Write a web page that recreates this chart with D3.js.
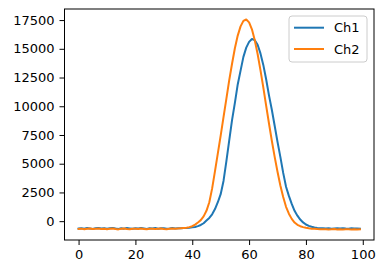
<!DOCTYPE html>
<html>
<head>
<meta charset="utf-8">
<script src="https://cdn.jsdelivr.net/npm/d3@7"></script>
<style>
  body { margin: 0; background: #fff; }
  text { font-family: "DejaVu Sans", sans-serif; fill: #000; }
</style>
</head>
<body>
<div id="wrapper"></div>
<script>
// sample index 0..99
const seriesNames = ["Ch1", "Ch2"];
const seriesColors = ["#1f77b4", "#ff7f0e"];

const ch1Values = [
  -640, -610, -655, -600, -630, -670, -615, -590, -640, -605,
  -660, -625, -585, -640, -670, -610, -650, -600, -635, -665,
  -620, -645, -590, -630, -675, -615, -640, -600, -655, -625,
  -610, -650, -635, -595, -640, -620, -610, -600, -590, -570,
  -540, -500, -430, -330, -180, 50, 280, 600, 1050, 1650,
  2350, 3500, 5200, 7000, 8800, 10300, 11900, 13100, 14300, 15100,
  15600, 15850, 15750, 15350, 14600, 13600, 12350, 10950, 9700, 8300,
  6900, 5600, 4200, 3000, 2200, 1500, 900, 480, 140, -110,
  -290, -410, -490, -550, -590, -610, -625, -640, -615, -650,
  -630, -620, -645, -610, -635, -650, -625, -640, -630, -645
];

const ch2Values = [
  -680, -650, -700, -660, -640, -690, -670, -630, -685, -655,
  -700, -665, -640, -690, -715, -660, -645, -680, -700, -655,
  -670, -690, -640, -675, -705, -660, -650, -690, -670, -645,
  -680, -700, -660, -640, -655, -630, -610, -590, -570, -520,
  -440, -300, -110, 90, 420, 900, 1650, 2850, 4350, 5900,
  7450, 9050, 10650, 12250, 13700, 15050, 16150, 16950, 17430, 17550,
  17300, 16700, 15750, 14550, 13150, 11650, 10050, 8500, 7000, 5600,
  4300, 3100, 2100, 1250, 650, 200, -120, -320, -440, -520,
  -580, -620, -650, -670, -690, -700, -710, -695, -720, -705,
  -690, -715, -700, -725, -710, -695, -720, -705, -715, -700
];

const xTicks = [0, 20, 40, 60, 80, 100];
const yTicks = [0, 2500, 5000, 7500, 10000, 12500, 15000, 17500];

function drawChart() {
  const dimensions = {
    width: 385,
    height: 274,
    margin: { top: 9, right: 11, bottom: 34, left: 64.5 }
  };
  dimensions.boundedWidth = dimensions.width - dimensions.margin.left - dimensions.margin.right;
  dimensions.boundedHeight = dimensions.height - dimensions.margin.top - dimensions.margin.bottom;

  const series = [ch1Values, ch2Values];
  const xAccessor = (d, i) => i;
  const yAccessor = d => d;

  const wrapper = d3.select("#wrapper")
    .append("svg")
      .attr("width", dimensions.width)
      .attr("height", dimensions.height);

  const bounds = wrapper.append("g")
      .attr("transform", `translate(${dimensions.margin.left},${dimensions.margin.top})`);

  // matplotlib style 5% padding
  const n = ch1Values.length;
  const xPad = (n - 1) * 0.05;
  const yExtent = d3.extent(ch1Values.concat(ch2Values));
  const yPad = (yExtent[1] - yExtent[0]) * 0.05;

  const xScaler = d3.scaleLinear()
      .domain([-xPad, n - 1 + xPad])
      .range([0, dimensions.boundedWidth]);

  const yScaler = d3.scaleLinear()
      .domain([yExtent[0] - yPad, yExtent[1] + yPad])
      .range([dimensions.boundedHeight, 0]);

  const lineGenerator = d3.line()
      .x((d, i) => xScaler(xAccessor(d, i)))
      .y(d => yScaler(yAccessor(d)));

  series.forEach((values, k) => {
    bounds.append("path")
        .attr("d", lineGenerator(values))
        .attr("fill", "none")
        .attr("stroke", seriesColors[k])
        .attr("stroke-width", 2)
        .attr("stroke-linejoin", "round")
        .attr("stroke-linecap", "square");
  });

  const xAxisGenerator = d3.axisBottom(xScaler)
      .tickValues(xTicks)
      .tickSize(5)
      .tickPadding(4.5)
      .tickFormat(d3.format("d"));

  const yAxisGenerator = d3.axisLeft(yScaler)
      .tickValues(yTicks)
      .tickSize(5)
      .tickPadding(5)
      .tickFormat(d3.format("d"));

  const xAxis = bounds.append("g")
      .attr("transform", `translate(0,${dimensions.boundedHeight})`)
      .call(xAxisGenerator);
  const yAxis = bounds.append("g")
      .call(yAxisGenerator);

  [xAxis, yAxis].forEach(ax => {
    ax.select(".domain").remove();
    ax.selectAll("line").attr("stroke", "#000").attr("stroke-width", 1);
    ax.selectAll("text")
        .attr("font-size", 13)
        .attr("font-family", "DejaVu Sans, sans-serif")
        .attr("fill", "#000");
  });

  // frame
  bounds.append("rect")
      .attr("x", 0)
      .attr("y", 0)
      .attr("width", dimensions.boundedWidth)
      .attr("height", dimensions.boundedHeight)
      .attr("fill", "none")
      .attr("stroke", "#000")
      .attr("stroke-width", 1);

  // legend
  const legend = bounds.append("g")
      .attr("transform", `translate(${dimensions.boundedWidth - 85},7)`);

  legend.append("rect")
      .attr("x", 0)
      .attr("y", 0)
      .attr("width", 78)
      .attr("height", 46)
      .attr("rx", 3)
      .attr("fill", "#fff")
      .attr("fill-opacity", 0.8)
      .attr("stroke", "#cccccc")
      .attr("stroke-width", 1);

  seriesNames.forEach((name, k) => {
    const y = 11.7 + k * 21.3;
    legend.append("line")
        .attr("x1", 5)
        .attr("x2", 35)
        .attr("y1", y)
        .attr("y2", y)
        .attr("stroke", seriesColors[k])
        .attr("stroke-width", 2);
    legend.append("text")
        .attr("x", 45)
        .attr("y", y)
        .attr("dy", "0.35em")
        .attr("font-size", 13)
        .text(name);
  });
}

drawChart();
</script>
</body>
</html>
